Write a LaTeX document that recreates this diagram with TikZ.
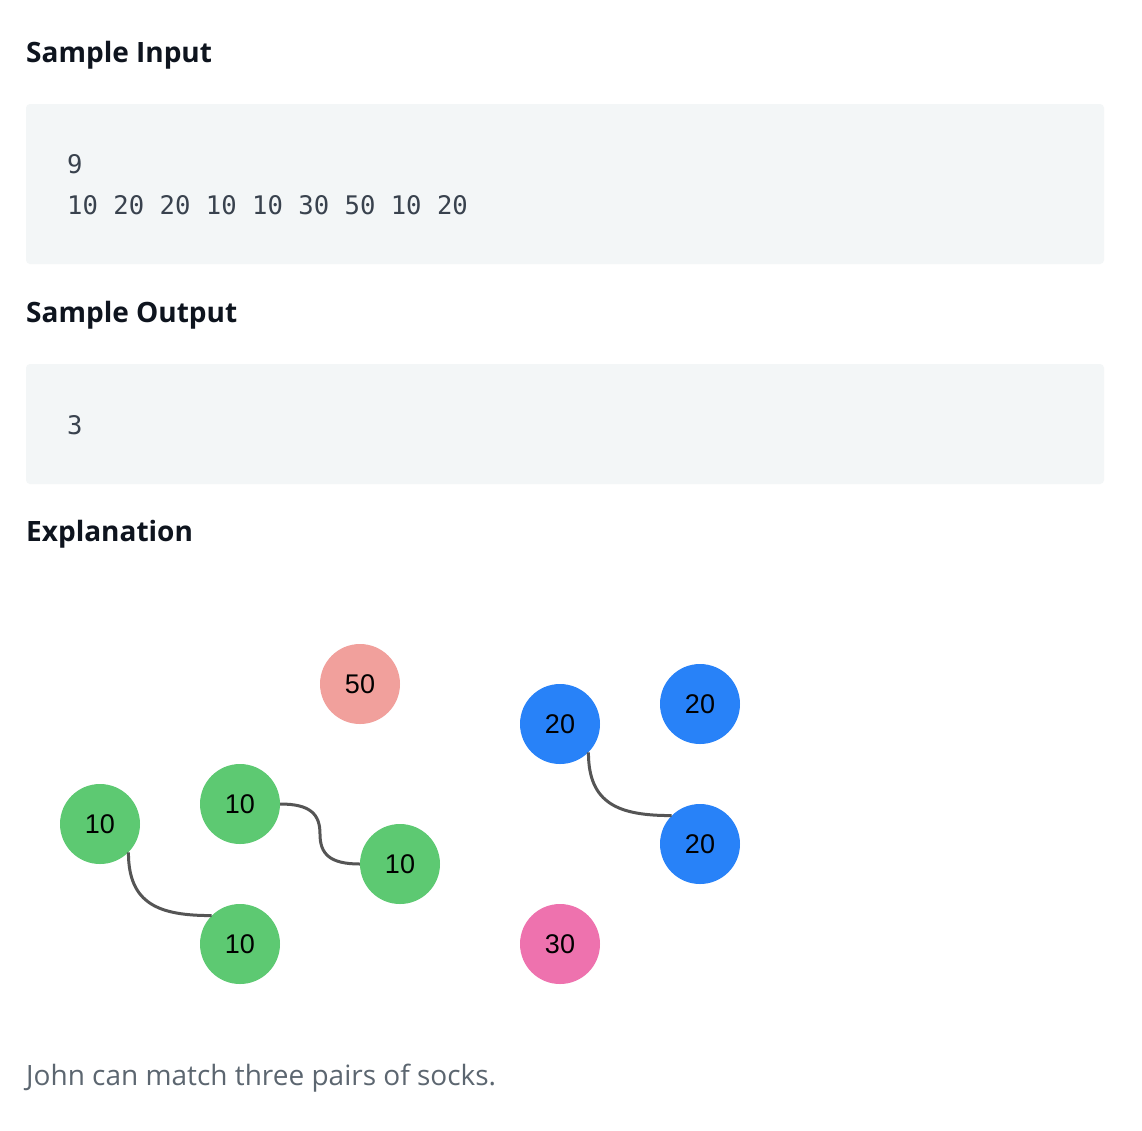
\documentclass[tikz,border=0pt]{standalone}
\usepackage{fontspec}
\usetikzlibrary{calc}
\setmainfont{Open Sans}
\newfontfamily\codefont{DejaVu Sans Mono}
\newfontfamily\nodefont{Liberation Sans}
\definecolor{headc}{HTML}{0E141E}
\definecolor{codec}{HTML}{39424E}
\definecolor{boxc}{HTML}{F3F6F7}
\definecolor{capc}{HTML}{5C6670}
\definecolor{greenc}{HTML}{5DC972}
\definecolor{bluec}{HTML}{2882F8}
\definecolor{salmonc}{HTML}{F1A09C}
\definecolor{pinkc}{HTML}{EE72AE}
\definecolor{linec}{HTML}{555555}
\tikzset{
  heading/.style={anchor=base west, inner sep=0pt, text=headc, font=\fontsize{28}{34}\selectfont\bfseries},
  codetext/.style={anchor=base west, inner sep=0pt, text=codec, font=\codefont\fontsize{25.6}{30}\selectfont},
  codebox/.style={fill=boxc, draw=none, rounded corners=4pt},
  sock/.style={circle, minimum size=80pt, inner sep=0pt, draw=none, text=black, font=\nodefont\fontsize{27}{32}\selectfont},
  pairline/.style={draw=linec, line width=3pt}
}
\begin{document}
\begin{tikzpicture}[x=1pt,y=-1pt]
\useasboundingbox[fill=white] (0,0) rectangle (1142,1130);
% headings
\node[heading] (h1) at (26,62.5) {Sample Input};
\path[codebox] (26,104) rectangle (1104,264);
\node[codetext] (c1) at (67,173) {9};
\node[codetext] (c2) at (67,214) {10 20 20 10 10 30 50 10 20};
\node[heading] (h2) at (26,322.5) {Sample Output};
\path[codebox] (26,364) rectangle (1104,484);
\node[codetext] (c3) at (67,434) {3};
\node[heading] (h3) at (26,541.5) {Explanation};
% socks
\node[sock, fill=salmonc] (s50) at (360,684) {50};
\node[sock, fill=greenc] (g1) at (100,824) {10};
\node[sock, fill=greenc] (g2) at (240,804) {10};
\node[sock, fill=greenc] (g3) at (400,864) {10};
\node[sock, fill=greenc] (g4) at (240,944) {10};
\node[sock, fill=bluec] (b1) at (560,724) {20};
\node[sock, fill=bluec] (b2) at (700,704) {20};
\node[sock, fill=bluec] (b3) at (700,844) {20};
\node[sock, fill=pinkc] (p30) at (560,944) {30};
% pairs
\coordinate (m23) at ($(g2.east)!0.5!(g3.west)$);
\draw[pairline] (g1.-45) .. controls +(0,52) and +(-52,0) .. (g4.135);
\draw[pairline] (g2.east) .. controls +(30,0) and +(0,-20) .. (m23)
                          .. controls +(0,20) and +(-30,0) .. (g3.west);
\draw[pairline] (b1.-45) .. controls +(0,52) and +(-52,0) .. (b3.135);
% caption
\node[anchor=base west, inner sep=0pt, text=capc, font=\fontsize{28}{34}\selectfont] (cap) at (26,1085) {John can match three pairs of socks.};
\end{tikzpicture}
\end{document}
